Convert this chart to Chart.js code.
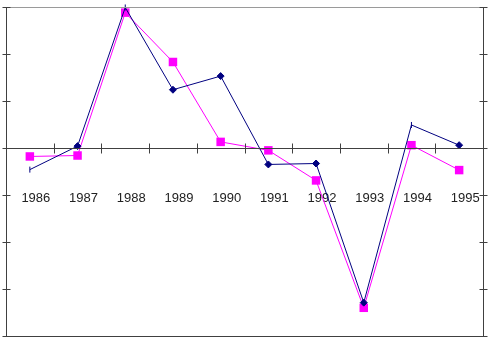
<!DOCTYPE html>
<html>
<head>
<meta charset="utf-8">
<script src="https://cdn.jsdelivr.net/npm/chart.js@4/dist/chart.umd.min.js"></script>
<style>
html,body{margin:0;padding:0;background:#fff;}
#wrap{width:490px;height:343px;position:relative;}
</style>
</head>
<body>
<div id="wrap"><canvas id="c" width="490" height="343"></canvas></div>
<script>
const categories = ['1986','1987','1988','1989','1990','1991','1992','1993','1994','1995'];
const seriesNavy = [-0.46, 0.04, 2.99, 1.24, 1.53, -0.35, -0.33, -3.29, 0.49, 0.06];
const seriesMagenta = [-0.18, -0.16, 2.88, 1.83, 0.13, -0.05, -0.69, -3.40, 0.06, -0.47];
const yTicks = [-4, -3, -2, -1, 0, 1, 2, 3];

const navyStyles = [0,2,8];

const frameTicks = {
  id: 'frameTicks',
  afterDraw(chart) {
    const ctx = chart.ctx;
    const a = chart.chartArea;
    const x = chart.scales.x, y = chart.scales.y;
    ctx.save();
    ctx.lineWidth = 1;
    ctx.strokeStyle = '#9a9a9a';
    ctx.beginPath();
    ctx.moveTo(a.left, Math.round(a.top) + 0.5);
    ctx.lineTo(a.right, Math.round(a.top) + 0.5);
    ctx.stroke();
    ctx.strokeStyle = '#404040';
    ctx.beginPath();
    const L = Math.round(a.left) + 0.5, R = Math.round(a.right) + 0.5, B = Math.round(a.bottom) + 0.5, T = Math.round(a.top) + 0.5;
    ctx.moveTo(L, T); ctx.lineTo(L, B); ctx.lineTo(R, B); ctx.lineTo(R, T);
    const z = Math.round(y.getPixelForValue(0)) + 0.5;
    ctx.moveTo(a.left, z); ctx.lineTo(a.right, z);
    yTicks.forEach(v => {
      const py = Math.round(y.getPixelForValue(v)) + 0.5;
      ctx.moveTo(L - 4, py); ctx.lineTo(L + 4, py);
      ctx.moveTo(R - 4, py); ctx.lineTo(R + 4, py);
    });
    for (let i = 1; i < categories.length; i++) {
      const px = Math.round((x.getPixelForValue(i - 1) + x.getPixelForValue(i)) / 2) + 0.5;
      ctx.moveTo(px, z - 5); ctx.lineTo(px, z + 5);
    }
    ctx.stroke();
    ctx.restore();
  }
};

new Chart(document.getElementById('c'), {
  type: 'line',
  data: {
    labels: categories,
    datasets: [
      {
        label: 'Series 1',
        data: seriesNavy,
        borderColor: '#000080',
        backgroundColor: '#000080',
        borderWidth: 1,
        pointStyle: ctx => navyStyles.includes(ctx.dataIndex) ? 'line' : 'rectRot',
        pointRotation: ctx => navyStyles.includes(ctx.dataIndex) ? 90 : 0,
        pointRadius: ctx => navyStyles.includes(ctx.dataIndex) ? 3 : 3.5,
        pointBorderWidth: 1,
        tension: 0,
        clip: false,
        order: 1
      },
      {
        label: 'Series 2',
        data: seriesMagenta,
        borderColor: '#ff00ff',
        backgroundColor: '#ff00ff',
        borderWidth: 1,
        pointStyle: 'rect',
        pointRadius: 6,
        pointBorderWidth: 0,
        tension: 0,
        clip: false,
        order: 2
      }
    ]
  },
  options: {
    responsive: false,
    animation: false,
    devicePixelRatio: 1,
    layout: { padding: { left: 6, top: 7, right: 7, bottom: 7 } },
    plugins: { legend: { display: false }, tooltip: { enabled: false } },
    scales: {
      y: {
        display: false,
        min: -4,
        max: 3,
        ticks: { stepSize: 1 }
      },
      x: {
        position: { y: -0.9 },
        offset: true,
        grid: { display: false, drawTicks: false },
        border: { display: false },
        ticks: {
          color: '#222',
          font: { family: 'Liberation Sans, Arial, sans-serif', size: 13 },
          padding: 0,
          labelOffset: 6,
          maxRotation: 0,
          autoSkip: false
        }
      }
    }
  },
  plugins: [frameTicks]
});
</script>
</body>
</html>
